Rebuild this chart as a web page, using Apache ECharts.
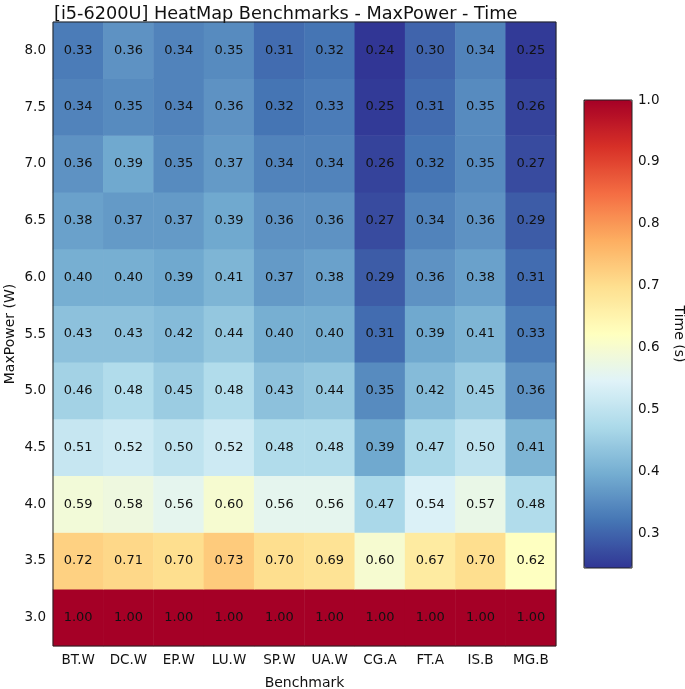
<!DOCTYPE html>
<html><head><meta charset="utf-8">
<script src="https://cdn.jsdelivr.net/npm/echarts@6/dist/echarts.min.js"></script>
<style>html,body{margin:0;padding:0;background:#fff}#c{width:685px;height:689px}</style>
</head><body><div id="c"></div>
<script>
const benchmarks = ['BT.W','DC.W','EP.W','LU.W','SP.W','UA.W','CG.A','FT.A','IS.B','MG.B'];
const powerLevels = ['3.0','3.5','4.0','4.5','5.0','5.5','6.0','6.5','7.0','7.5','8.0'];
const t30 = [1.00,1.00,1.00,1.00,1.00,1.00,1.00,1.00,1.00,1.00];
const t35 = [0.72,0.71,0.70,0.73,0.70,0.69,0.60,0.67,0.70,0.62];
const t40 = [0.59,0.58,0.56,0.60,0.56,0.56,0.47,0.54,0.57,0.48];
const t45 = [0.51,0.52,0.50,0.52,0.48,0.48,0.39,0.47,0.50,0.41];
const t50 = [0.46,0.48,0.45,0.48,0.43,0.44,0.35,0.42,0.45,0.36];
const t55 = [0.43,0.43,0.42,0.44,0.40,0.40,0.31,0.39,0.41,0.33];
const t60 = [0.40,0.40,0.39,0.41,0.37,0.38,0.29,0.36,0.38,0.31];
const t65 = [0.38,0.37,0.37,0.39,0.36,0.36,0.27,0.34,0.36,0.29];
const t70 = [0.36,0.39,0.35,0.37,0.34,0.34,0.26,0.32,0.35,0.27];
const t75 = [0.34,0.35,0.34,0.36,0.32,0.33,0.25,0.31,0.35,0.26];
const t80 = [0.33,0.36,0.34,0.35,0.31,0.32,0.24,0.30,0.34,0.25];
const rows = [t30,t35,t40,t45,t50,t55,t60,t65,t70,t75,t80];
const colorbarTicks = [0.3,0.4,0.5,0.6,0.7,0.8,0.9,1.0];
const cMin = 0.245, cMax = 1.0;

const data = [];
rows.forEach((r, yi) => r.forEach((v, xi) => data.push([xi, yi, v])));

const FONT = 'DejaVu Sans';
const chart = echarts.init(document.getElementById('c'));
chart.setOption({
  animation: false,
  textStyle: {fontFamily: FONT},
  title: {text: '[i5-6200U] HeatMap Benchmarks - MaxPower - Time', left: 49, top: 0,
    textStyle: {fontFamily: FONT, fontSize: 17.7, fontWeight: 'normal', color: '#111'}},
  grid: [
    {left: 53, right: 129, top: 22, bottom: 43, outerBoundsMode: 'none', containLabel: false, show: true, borderColor: '#222', borderWidth: 1, backgroundColor: 'transparent', z: 10},
    {left: 584, width: 48, top: 100, height: 468, outerBoundsMode: 'none', containLabel: false, show: true, borderColor: '#222', borderWidth: 1, backgroundColor: 'transparent', z: 10}
  ],
  xAxis: [
    {type: 'category', data: benchmarks, gridIndex: 0, name: 'Benchmark', nameLocation: 'middle', nameGap: 30,
      nameTextStyle: {fontSize: 14, color: '#111'},
      axisLine: {show: false}, axisTick: {alignWithLabel: true, length: 4, lineStyle: {color: '#222'}},
      axisLabel: {fontSize: 13.5, color: '#111', margin: 7}, splitLine: {show: false}},
    {type: 'value', gridIndex: 1, show: false, min: 0, max: 1}
  ],
  yAxis: [
    {type: 'category', data: powerLevels, gridIndex: 0, name: 'MaxPower (W)', nameLocation: 'middle', nameGap: 36,
      nameMoveOverlap: false,
      nameTextStyle: {fontSize: 14, color: '#111'},
      axisLine: {show: false}, axisTick: {alignWithLabel: true, length: 4, lineStyle: {color: '#222'}},
      axisLabel: {fontSize: 13.5, color: '#111', margin: 7}, splitLine: {show: false}},
    {type: 'value', gridIndex: 1, position: 'right', min: cMin, max: cMax,
      name: 'Time (s)', nameLocation: 'middle', nameGap: 40, nameRotate: -90,
      nameTextStyle: {fontSize: 14, color: '#111'},
      axisLine: {show: false},
      axisTick: {show: true, length: 4, customValues: colorbarTicks, lineStyle: {color: '#222'}},
      axisLabel: {fontSize: 13.5, color: '#111', margin: 6, customValues: colorbarTicks, formatter: v => v.toFixed(1)},
      splitLine: {show: false}}
  ],
  visualMap: {
    type: 'continuous', min: cMin, max: cMax, seriesIndex: 0, calculable: false, realtime: false,
    left: 584, top: 100, itemWidth: 48, itemHeight: 468, padding: 0, text: null, showLabel: false,
    hoverLink: false,
    inRange: {color: ['#313695','#4575b4','#74add1','#abd9e9','#e0f3f8','#ffffbf','#fee090','#fdae61','#f46d43','#d73027','#a50026']}
  },
  series: [{
    type: 'heatmap', xAxisIndex: 0, yAxisIndex: 0, data: data,
    itemStyle: {borderWidth: 0},
    label: {show: true, fontSize: 13, color: '#111', fontFamily: FONT, formatter: p => p.value[2].toFixed(2)},
    emphasis: {disabled: true}
  }]
});
</script></body></html>
